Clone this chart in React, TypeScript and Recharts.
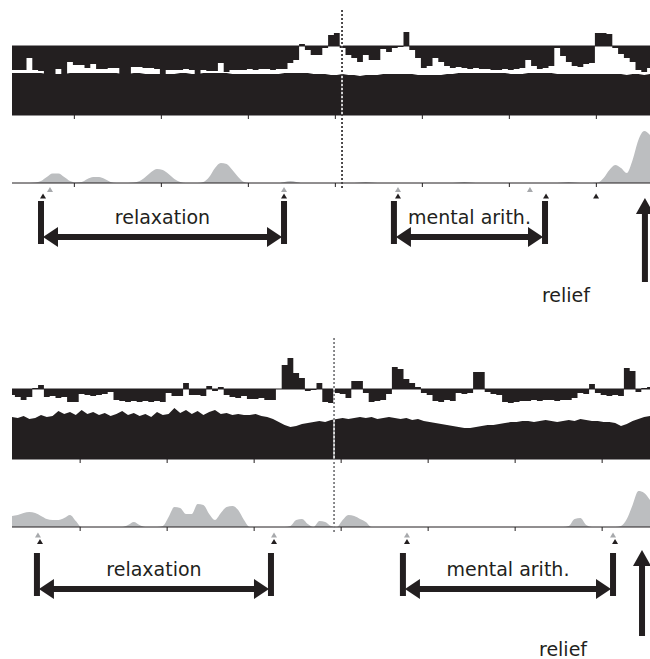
import { ComposedChart, Area, XAxis, YAxis, ReferenceLine, ReferenceArea, Scatter } from 'recharts'

const BLACK = '#231f20'
const GREY = '#bcbec0'
const MARK_GREY = '#a7a9ac'
const FONT = 'DejaVu Sans, Verdana, sans-serif'

// samples every 4 s, first sample at the left edge of each panel
const STEP = 4
const P1_START = -43
const P2_START = -47
const tickTimes = [0, 60, 120, 180, 240, 300, 360]

// panel 1 (upper): signal around the reference line, lower band top, grey trace
const p1Line = 69
const p1Upper = [
  45, 45, 45, 57, 45, 44, 39, 39, 46, 39,
  53, 50, 50, 47, 51, 46, 46, 47, 47, 39,
  39, 48, 48, 47, 47, 46, 39, 45, 45, 45,
  46, 45, 39, 45, 44, 44, 52, 43, 45, 45,
  45, 46, 45, 46, 46, 45, 46, 46, 52, 55,
  71, 65, 60, 60, 67, 80, 82, 67, 60, 57,
  53, 60, 55, 55, 66, 63, 67, 68, 83, 65,
  57, 47, 49, 57, 53, 49, 47, 48, 47, 46,
  47, 46, 46, 45, 45, 46, 45, 46, 47, 55,
  49, 46, 47, 49, 67, 59, 53, 49, 48, 51,
  52, 82, 82, 81, 67, 61, 57, 53, 45, 43,
  47,
]
const p1Lower = [
  42, 42, 42, 42, 42, 42, 41, 41, 41, 41,
  42, 42, 42, 42, 42, 42, 42, 42, 42, 41,
  41, 42, 42, 41, 41, 41, 41, 41, 41, 42,
  42, 41, 41, 42, 42, 42, 42, 42, 41, 41,
  41, 41, 41, 41, 41, 41, 41, 42, 42, 42,
  42, 42, 41, 41, 41, 40, 40, 41, 40, 40,
  39, 40, 40, 40, 41, 41, 41, 41, 41, 41,
  40, 40, 40, 40, 40, 41, 41, 42, 42, 42,
  42, 42, 42, 42, 42, 42, 41, 41, 41, 42,
  42, 42, 42, 42, 41, 41, 41, 41, 41, 41,
  41, 41, 41, 41, 41, 41, 40, 41, 41, 40,
  41,
]
const p1Grey = [
  0, 0, 0, 0, 0.5, 2, 6, 9.5, 9.5, 6,
  2, 0.5, 1, 4, 6, 6, 4, 1, 0, 0,
  0, 0.5, 2, 6, 11, 14, 13, 9, 4, 1,
  0, 0, 0, 1, 6, 15, 20, 19, 13, 6,
  1, 0, 0, 0, 0, 0, 0, 1, 2, 1,
  0, 0, 0, 0, 0, 0, 0, 0, 0, 0,
  0.5, 1, 0.5, 0, 0, 0, 0, 0, 0, 0,
  0, 0, 0, 0, 0, 0, 0, 0.5, 1, 0.5,
  0, 0, 0, 0, 0, 0, 0, 0, 0, 0,
  0, 0, 0, 0, 0, 0.5, 1, 0.5, 0, 0,
  0, 0.5, 5, 13, 18, 15, 10, 23, 43, 52,
  48,
]
const p1GreyMarks = [-16.8, 144.6, 223.2, 314.2]
const p1BlackMarks = [-21.6, 144.6, 223.2, 325.3, 359.8]
const p1Relaxation = [-23, 144.6]
const p1MentalArith = [220.4, 324.6]
const p1Relief = 393.5
const p1Onset = 184.6

// panel 2 (lower)
const p2Line = 70
const p2Upper = [
  64, 62, 59, 62, 71, 74, 62, 63, 61, 62,
  57, 57, 65, 64, 63, 64, 65, 67, 59, 58,
  57, 58, 57, 58, 57, 58, 57, 66, 63, 63,
  76, 64, 64, 63, 73, 68, 72, 64, 62, 61,
  63, 60, 60, 61, 59, 59, 70, 94, 101, 86,
  81, 68, 69, 76, 57, 56, 66, 65, 61, 78,
  78, 66, 57, 58, 59, 65, 92, 90, 80, 76,
  72, 66, 64, 58, 57, 59, 58, 66, 65, 66,
  87, 87, 67, 65, 64, 57, 56, 57, 58, 58,
  59, 58, 59, 59, 58, 59, 59, 61, 66, 65,
  75, 66, 64, 63, 64, 63, 91, 88, 67, 71,
  72,
]
const p2Lower = [
  42, 41, 43, 40, 41, 44, 42, 43, 48, 45,
  47, 44, 49, 45, 47, 44, 46, 43, 45, 48,
  44, 46, 43, 45, 42, 47, 44, 45, 51, 46,
  49, 45, 48, 44, 47, 49, 45, 46, 44, 45,
  44, 44, 45, 43, 42, 40, 37, 34, 32, 33,
  35, 36, 37, 38, 37, 39, 40, 41, 40, 41,
  42, 41, 42, 40, 41, 42, 41, 40, 41, 39,
  40, 38, 37, 36, 35, 34, 33, 32, 31, 31,
  32, 33, 34, 34, 35, 36, 37, 37, 38, 38,
  37, 38, 39, 38, 37, 38, 39, 38, 40, 39,
  38, 38, 37, 37, 36, 33, 35, 38, 40, 42,
  43,
]
const p2Grey = [
  11, 12, 14, 15, 14, 11, 8, 7, 7, 9,
  12, 6, 0, 0, 0, 0, 0, 0, 0, 0,
  2, 5, 2, 0, 0, 0, 1, 10, 20, 19,
  13, 13, 23, 22, 13, 7, 14, 20, 21, 17,
  7, 0, 0, 0, 0, 0, 0, 0, 1, 7,
  8, 3, 0, 6, 5, 1, 0, 7, 12, 11,
  8, 5, 0, 0, 0, 0, 0, 0, 0, 0,
  0, 0, 0, 0, 0, 0, 0, 0, 0, 0,
  0, 0, 0, 0, 0, 0, 0, 0, 0, 0,
  0, 0, 0, 0, 0, 0, 1, 8, 9, 2,
  0, 0, 0, 0, 0, 1, 8, 22, 36, 34,
  27,
]
const p2GreyMarks = [-29.1, 133.7, 225.4, 367.5]
const p2BlackMarks = [-27.7, 133.7, 225.4, 368.9]
const p2Relaxation = [-29.8, 131.6]
const p2MentalArith = [222.6, 367.5]
const p2Relief = 387.5
const p2Onset = 175.1

const WIDTH = 650
const MARGIN = { top: 0, right: 0, bottom: 0, left: 12 }

const buildTop = (start: number, upper: number[], lower: number[], line: number) =>
  upper.map((u, i) => ({
    t: start + i * STEP,
    lower: [0, lower[i]],
    upper: [Math.min(u, line), Math.max(u, line)],
  }))

const buildGrey = (start: number, vals: number[]) =>
  vals.map((v, i) => ({ t: start + i * STEP, v }))

const axisX = (domain: number[]) => (
  <XAxis
    type="number"
    dataKey="t"
    domain={domain}
    ticks={tickTimes}
    tickFormatter={() => ''}
    tickSize={4}
    tickLine={{ stroke: BLACK }}
    axisLine={{ stroke: BLACK }}
    height={8}
    allowDataOverflow
  />
)

function TopTrace({ rows, domain, yMax, line, top }: any) {
  return (
    <div style={{ position: 'absolute', left: 0, top }}>
      <ComposedChart width={WIDTH} height={yMax + 8} data={rows} margin={MARGIN}>
        {axisX(domain)}
        <YAxis hide type="number" domain={[0, yMax]} allowDataOverflow />
        <Area dataKey="lower" type="linear" fill={BLACK} fillOpacity={1} stroke="none" dot={false} activeDot={false} isAnimationActive={false} />
        <Area dataKey="upper" type="step" fill={BLACK} fillOpacity={1} stroke="none" dot={false} activeDot={false} isAnimationActive={false} />
        <ReferenceLine y={line} stroke={BLACK} strokeWidth={1} />
      </ComposedChart>
    </div>
  )
}

function GreyTrace({ rows, domain, yMax, top }: any) {
  return (
    <div style={{ position: 'absolute', left: 0, top }}>
      <ComposedChart width={WIDTH} height={yMax + 8} data={rows} margin={MARGIN}>
        {axisX(domain)}
        <YAxis hide type="number" domain={[0, yMax]} allowDataOverflow />
        <Area dataKey="v" type="monotone" fill={GREY} fillOpacity={1} stroke="none" dot={false} activeDot={false} isAnimationActive={false} />
      </ComposedChart>
    </div>
  )
}

const triangle = (color: string) => (props: any) => {
  const { cx, cy } = props
  return <polygon points={`${cx - 3},${cy + 2.5} ${cx + 3},${cy + 2.5} ${cx},${cy - 2.5}`} fill={color} />
}

const bracket = (label: string) => (props: any) => {
  const { x, y, width, height } = props
  const x1 = x
  const x2 = x + width
  const sy = y + height - 7
  return (
    <g>
      <rect x={x1 - 3} y={y} width={6} height={height} fill={BLACK} />
      <rect x={x2 - 3} y={y} width={6} height={height} fill={BLACK} />
      <rect x={x1 + 14} y={sy - 3} width={width - 28} height={6} fill={BLACK} />
      <polygon points={`${x1 + 2},${sy} ${x1 + 17},${sy - 10} ${x1 + 17},${sy + 10}`} fill={BLACK} />
      <polygon points={`${x2 - 2},${sy} ${x2 - 17},${sy - 10} ${x2 - 17},${sy + 10}`} fill={BLACK} />
      <text x={(x1 + x2) / 2} y={y + 23} textAnchor="middle" fontFamily={FONT} fontSize={19} fill={BLACK}>
        {label}
      </text>
    </g>
  )
}

const reliefArrow = (props: any) => {
  const { x, y, width, height } = props
  const cx = x + width / 2
  return (
    <g>
      <rect x={cx - 3} y={y + 14} width={6} height={height - 14} fill={BLACK} />
      <polygon points={`${cx},${y} ${cx - 9},${y + 16} ${cx + 9},${y + 16}`} fill={BLACK} />
      <text x={cx - 79} y={y + height + 20} textAnchor="middle" fontFamily={FONT} fontSize={19} fill={BLACK}>
        relief
      </text>
    </g>
  )
}

function Annotations({ domain, y0, y1, onset, onsetY, onsetColor, greyMarks, blackMarks, greyY, blackY, relax, mental, barY, relief, reliefY }: any) {
  return (
    <div style={{ position: 'absolute', left: 0, top: y0 }}>
      <ComposedChart width={WIDTH} height={y1 - y0} margin={MARGIN}>
        <XAxis hide type="number" dataKey="t" domain={domain} allowDataOverflow />
        <YAxis hide type="number" dataKey="y" domain={[y0, y1]} reversed allowDataOverflow />
        <ReferenceLine segment={[{ x: onset, y: onsetY[0] }, { x: onset, y: onsetY[1] }]} stroke="#ffffff" strokeWidth={1.6} />
        <ReferenceLine segment={[{ x: onset, y: onsetY[0] }, { x: onset, y: onsetY[1] }]} stroke={onsetColor} strokeWidth={1.6} strokeDasharray="2 2" />
        <Scatter data={greyMarks.map((t: number) => ({ t, y: greyY }))} shape={triangle(MARK_GREY)} isAnimationActive={false} />
        <Scatter data={blackMarks.map((t: number) => ({ t, y: blackY }))} shape={triangle(BLACK)} isAnimationActive={false} />
        <ReferenceArea x1={relax[0]} x2={relax[1]} y1={barY[0]} y2={barY[1]} shape={bracket('relaxation')} />
        <ReferenceArea x1={mental[0]} x2={mental[1]} y1={barY[0]} y2={barY[1]} shape={bracket('mental arith.')} />
        <ReferenceArea x1={relief - 0.5} x2={relief + 0.5} y1={reliefY[0]} y2={reliefY[1]} shape={reliefArrow} />
      </ComposedChart>
    </div>
  )
}

export default function App() {
  const d1 = [P1_START, P1_START + 440]
  const d2 = [P2_START, P2_START + 440]
  return (
    <div style={{ position: 'absolute', left: 0, top: 0, width: 650, height: 659, background: '#fff', overflow: 'hidden' }}>
      <TopTrace rows={buildTop(P1_START, p1Upper, p1Lower, p1Line)} domain={d1} yMax={90} line={p1Line} top={25} />
      <GreyTrace rows={buildGrey(P1_START, p1Grey)} domain={d1} yMax={60} top={123} />
      <Annotations
        domain={d1} y0={0} y1={320}
        onset={p1Onset} onsetY={[10, 190]} onsetColor={BLACK}
        greyMarks={p1GreyMarks} blackMarks={p1BlackMarks} greyY={189.5} blackY={196}
        relax={p1Relaxation} mental={p1MentalArith} barY={[201, 244]}
        relief={p1Relief} reliefY={[198, 282]}
      />

      <TopTrace rows={buildTop(P2_START, p2Upper, p2Lower, p2Line)} domain={d2} yMax={105} line={p2Line} top={354} />
      <GreyTrace rows={buildGrey(P2_START, p2Grey)} domain={d2} yMax={45} top={482} />
      <Annotations
        domain={d2} y0={330} y1={659}
        onset={p2Onset} onsetY={[338, 533]} onsetColor="#6d6e71"
        greyMarks={p2GreyMarks} blackMarks={p2BlackMarks} greyY={535} blackY={541.5}
        relax={p2Relaxation} mental={p2MentalArith} barY={[553, 596]}
        relief={p2Relief} reliefY={[550, 636]}
      />
    </div>
  )
}
